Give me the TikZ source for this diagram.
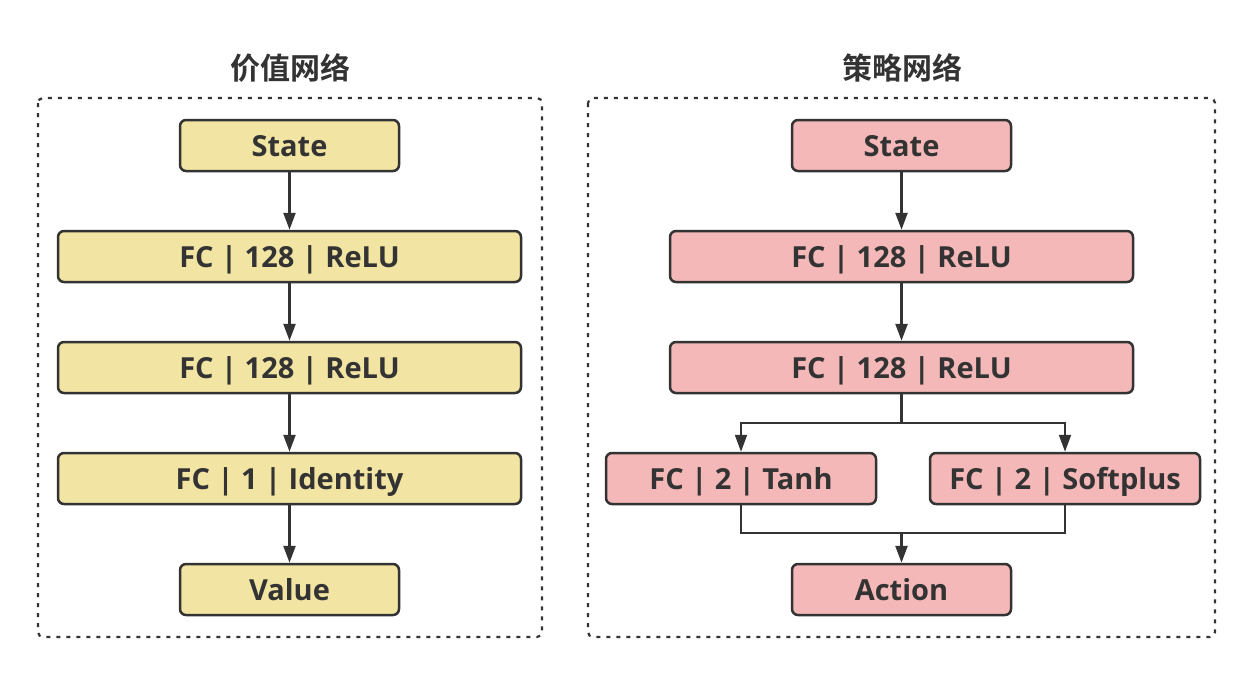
\documentclass[tikz,border=0pt]{standalone}
\usepackage{fontspec}
\setmainfont{Noto Sans CJK SC}[BoldFont={Noto Sans CJK SC Bold}]
\newfontfamily\latinf{Open Sans}[BoldFont={Open Sans Bold}]
\usetikzlibrary{arrows.meta}
\definecolor{lineC}{HTML}{333333}
\definecolor{yel}{HTML}{F2E4A2}
\definecolor{pnk}{HTML}{F5B8B8}
\tikzset{
  layer/.style={draw=lineC, line width=2.5pt, rounded corners=6pt, minimum height=51pt, inner sep=0pt, text height=21pt, text depth=0pt, font=\latinf\fontsize{29}{32}\selectfont\bfseries, text=lineC},
  yl/.style={layer, fill=yel},
  pk/.style={layer, fill=pnk},
  frame/.style={draw=lineC, line width=2.2pt, dash pattern=on 4pt off 6pt, rounded corners=5pt},
  ttl/.style={font=\fontsize{30}{34}\selectfont\bfseries, text=lineC},
  arr/.style={draw=lineC, line width=2.5pt, -{Triangle[length=17pt,width=12pt]}},
  thin/.style={draw=lineC, line width=2pt},
  thinarr/.style={draw=lineC, line width=2pt, -{Triangle[length=17pt,width=12pt]}},
}
\begin{document}
\begin{tikzpicture}[x=1pt,y=-1pt]
\useasboundingbox (0,0) rectangle (1252,675);
\fill[white] (0,0) rectangle (1252,675);
% frames
\draw[frame] (38,98) rectangle (542,637);
\draw[frame] (588,98) rectangle (1215,637);
\node[ttl] (t1) at (290,68) {价值网络};
\node[ttl] (t2) at (902,68) {策略网络};
% left
\node[yl, minimum width=219pt] (ls) at (289.5,145.5) {State};
\node[yl, minimum width=463pt] (l1) at (289.5,256.5) {FC | 128 | ReLU};
\node[yl, minimum width=463pt] (l2) at (289.5,367.5) {FC | 128 | ReLU};
\node[yl, minimum width=463pt] (l3) at (289.5,478.5) {FC | 1 | Identity};
\node[yl, minimum width=219pt] (lv) at (289.5,589.5) {Value};
\draw[arr] (ls) -- (l1);
\draw[arr] (l1) -- (l2);
\draw[arr] (l2) -- (l3);
\draw[arr] (l3) -- (lv);
% right
\node[pk, minimum width=219pt] (rs) at (901.5,145.5) {State};
\node[pk, minimum width=463pt] (r1) at (901.5,256.5) {FC | 128 | ReLU};
\node[pk, minimum width=463pt] (r2) at (901.5,367.5) {FC | 128 | ReLU};
\node[pk, minimum width=270pt] (rt) at (741,478.5) {FC | 2 | Tanh};
\node[pk, minimum width=270pt] (rp) at (1065,478.5) {FC | 2 | Softplus};
\node[pk, minimum width=219pt] (ra) at (901.5,589.5) {Action};
\draw[arr] (rs) -- (r1);
\draw[arr] (r1) -- (r2);
\coordinate (sp) at (901.5,422.5);
\coordinate (jn) at (901.5,533);
\draw[thin, line width=2.5pt] (r2.south) -- (sp);
\draw[thinarr] (sp) -| (rt.north);
\draw[thinarr] (sp) -| (rp.north);
\draw[thin] (rt.south) |- (jn) -| (rp.south);
\draw[arr] (jn) -- (ra.north);
\end{tikzpicture}
\end{document}
